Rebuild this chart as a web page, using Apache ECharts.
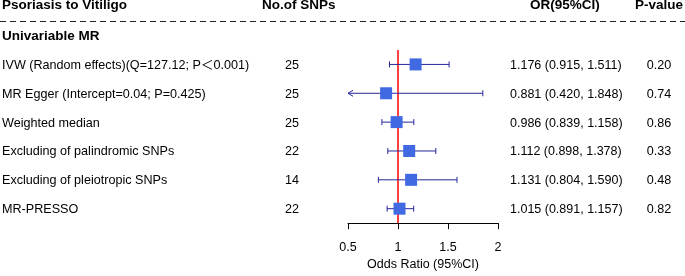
<!DOCTYPE html>
<html>
<head>
<meta charset="utf-8">
<script src="https://cdn.jsdelivr.net/npm/echarts@6/dist/echarts.min.js"></script>
<style>
  html, body { margin: 0; padding: 0; background: #fff; }
  #main { width: 685px; height: 276px; }
</style>
</head>
<body>
<div id="main"></div>
<script>
// forest plot data
var methods = [
  'IVW (Random effects)(Q=127.12; P\uFF1C0.001)',
  'MR Egger (Intercept=0.04; P=0.425)',
  'Weighted median',
  'Excluding of palindromic SNPs',
  'Excluding of pleiotropic SNPs',
  'MR-PRESSO'
];
var nSnps = [25, 25, 25, 22, 14, 22];
var orEst = [1.176, 0.881, 0.986, 1.112, 1.131, 1.015];
var ciLow = [0.915, 0.420, 0.839, 0.898, 0.804, 0.891];
var ciHigh = [1.511, 1.848, 1.158, 1.378, 1.590, 1.157];
var pValues = ['0.20', '0.74', '0.86', '0.33', '0.48', '0.82'];

var xMin = 0.5, xMax = 2, xStep = 0.5;
var font = '"Liberation Sans", Arial, "Noto Sans CJK SC", sans-serif';
var boxColor = '#4169e1';
var ciColor = '#26269c';

var chart = echarts.init(document.getElementById('main'));

var rows = [];
for (var i = 0; i < methods.length; i++) {
  rows.push([i, orEst[i], ciLow[i], ciHigh[i]]);
}

function renderRow(params, api) {
  var i = api.value(0);
  var lo = api.value(2), hi = api.value(3);
  var c = api.coord([api.value(1), i]);
  var y = c[1];
  var x1 = api.coord([Math.max(lo, xMin), i])[0];
  var x2 = api.coord([Math.min(hi, xMax), i])[0];
  var lineStyle = { stroke: ciColor, lineWidth: 1, fill: null };
  var kids = [
    { type: 'line', shape: { x1: x1, y1: y, x2: x2, y2: y }, style: lineStyle }
  ];
  if (lo < xMin) {
    kids.push({ type: 'polyline', shape: { points: [[x1 + 5, y - 3], [x1, y], [x1 + 5, y + 3]] }, style: lineStyle });
  } else {
    kids.push({ type: 'line', shape: { x1: x1, y1: y - 3, x2: x1, y2: y + 3 }, style: lineStyle });
  }
  kids.push({ type: 'line', shape: { x1: x2, y1: y - 3, x2: x2, y2: y + 3 }, style: lineStyle });
  kids.push({ type: 'rect', shape: { x: c[0] - 6, y: y - 6, width: 12, height: 12 }, style: { fill: boxColor } });
  return { type: 'group', children: kids };
}

chart.setOption({
  animation: false,
  grid: { left: 348, right: 187, top: 50, bottom: 45 },
  xAxis: {
    type: 'value',
    min: xMin, max: xMax, interval: xStep,
    axisLine: { show: true, lineStyle: { color: '#000', width: 1 } },
    axisTick: { show: true, length: 6, lineStyle: { color: '#000' } },
    axisLabel: { color: '#000', fontSize: 12.5, fontFamily: font, margin: 18 },
    splitLine: { show: false },
    name: 'Odds Ratio (95%CI)',
    nameLocation: 'middle',
    nameGap: 33,
    nameTextStyle: { color: '#000', fontSize: 12.5, fontFamily: font }
  },
  yAxis: {
    type: 'category',
    data: methods,
    inverse: true,
    show: false
  },
  series: [
    {
      type: 'line',
      data: [],
      z: 1,
      markLine: {
        silent: true,
        symbol: 'none',
        label: { show: false },
        lineStyle: { color: '#ff0000', width: 1.5, type: 'solid' },
        data: [{ xAxis: 1 }]
      }
    },
    {
      type: 'custom',
      z: 5,
      renderItem: renderRow,
      encode: { x: [1, 2, 3], y: 0 },
      data: rows
    }
  ]
});

// table text
function txt(s, x, y, opts) {
  opts = opts || {};
  return {
    type: 'text',
    style: {
      text: s, x: x, y: y,
      fill: '#000',
      fontFamily: font,
      fontSize: opts.size || 12.6,
      fontWeight: opts.bold ? 'bold' : 'normal',
      textAlign: opts.align || 'left',
      textVerticalAlign: 'middle'
    }
  };
}

var g = [
  txt('Psoriasis to Vitiligo', 2, 5, { bold: true, size: 13.5 }),
  txt('No.of SNPs', 262, 5, { bold: true, size: 13.5 }),
  txt('OR(95%CI)', 530, 5, { bold: true, size: 13.5 }),
  txt('P-value', 635, 5, { bold: true, size: 13.5 }),
  {
    type: 'line',
    shape: { x1: 0, y1: 21.5, x2: 685, y2: 21.5 },
    style: { stroke: '#222', lineWidth: 1, lineDash: [6, 4] }
  },
  txt('Univariable MR', 2, 36, { bold: true, size: 13.5 })
];

for (var k = 0; k < methods.length; k++) {
  var yy = chart.convertToPixel({ yAxisIndex: 0 }, k) + 1;
  g.push(txt(methods[k], 2, yy));
  g.push(txt(String(nSnps[k]), 292, yy, { align: 'center' }));
  g.push(txt(orEst[k].toFixed(3) + ' (' + ciLow[k].toFixed(3) + ', ' + ciHigh[k].toFixed(3) + ')', 510, yy, { size: 12.5 }));
  g.push(txt(pValues[k], 659, yy, { align: 'center' }));
}

chart.setOption({ graphic: g });
</script>
</body>
</html>
